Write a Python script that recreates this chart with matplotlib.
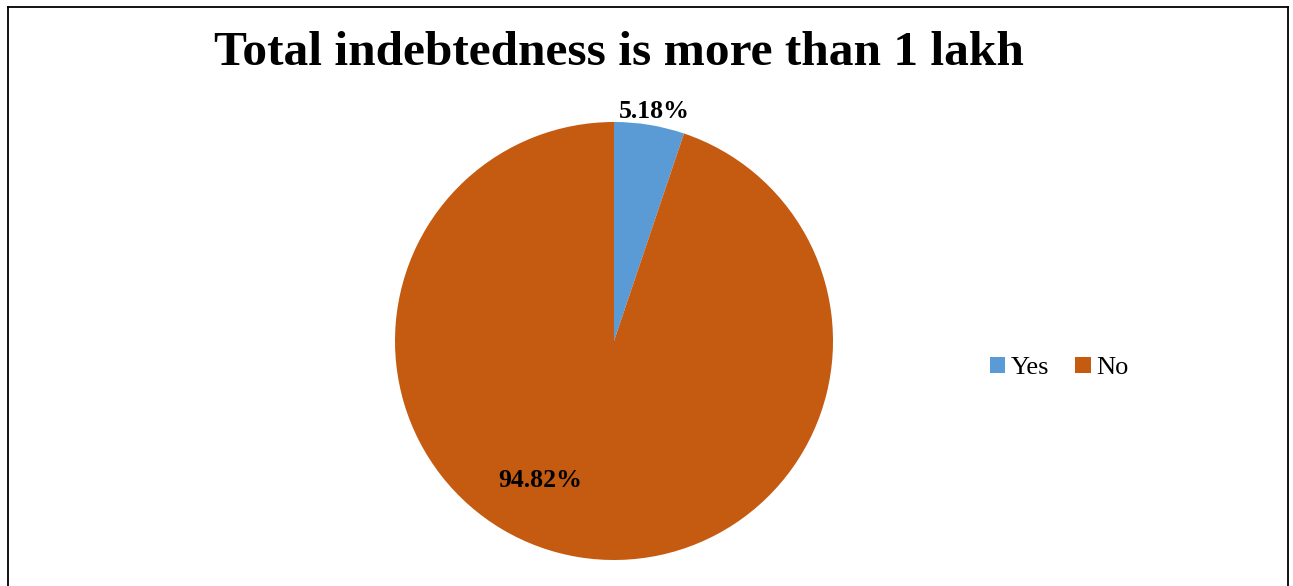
import matplotlib
matplotlib.use("Agg")
import matplotlib.pyplot as plt
from matplotlib.patches import Rectangle

# Survey response: is total indebtedness more than 1 lakh?
categories = ["Yes", "No"]
shares = [5.18, 94.82]
colors = ["#5B9BD5", "#C55A11"]

plt.rcParams["font.family"] = ["Liberation Serif", "DejaVu Serif"]

W, H = 1293, 586
fig = plt.figure(figsize=(W / 100, H / 100), dpi=100)
fig.patch.set_facecolor("white")

# Outer chart frame (open at the bottom edge)
frame_style = dict(color="#000000", lw=1.3, transform=fig.transFigure)
fig.add_artist(plt.Line2D([7.5 / W, 7.5 / W], [0, 1 - 7 / H], **frame_style))
fig.add_artist(plt.Line2D([7.5 / W, 1287.5 / W], [1 - 7 / H, 1 - 7 / H], **frame_style))
fig.add_artist(plt.Line2D([1287.5 / W, 1287.5 / W], [0, 1 - 7 / H], **frame_style))

# Pie axes: centre (614, 341) px from top-left, radius 219 px
cx, cy, r = 614, 341, 219
ax = fig.add_axes([(cx - r) / W, (H - cy - r) / H, 2 * r / W, 2 * r / H])
wedges, _ = ax.pie(shares, colors=colors, startangle=90, counterclock=False,
                   radius=1.0, wedgeprops=dict(linewidth=0))
ax.set_xlim(-1, 1)
ax.set_ylim(-1, 1)
ax.set_aspect("equal")
ax.axis("off")

# Percentage labels
label_pos = [(0.183, 1.05), (-0.338, -0.635)]
for val, (x, y) in zip(shares, label_pos):
    ax.text(x, y, f"{val:.2f}%", ha="center", va="center",
            fontsize=18.5, fontweight="bold", color="#000000")

# Title
fig.text(619 / W, 1 - 53 / H, "Total indebtedness is more than 1 lakh",
         ha="center", va="center", fontsize=35.6, fontweight="bold", color="#000000")

# Legend
handles = [Rectangle((0, 0), 1, 1, facecolor=c, edgecolor="none") for c in colors]
fig.legend(handles, categories, loc="center left",
           bbox_to_anchor=(990 / W, 1 - 368 / H), ncol=2, frameon=False,
           fontsize=19, handlelength=0.58, handleheight=0.58, handletextpad=0.2,
           columnspacing=1.0, borderaxespad=0, borderpad=0)

fig.savefig("out.png", dpi=100)
